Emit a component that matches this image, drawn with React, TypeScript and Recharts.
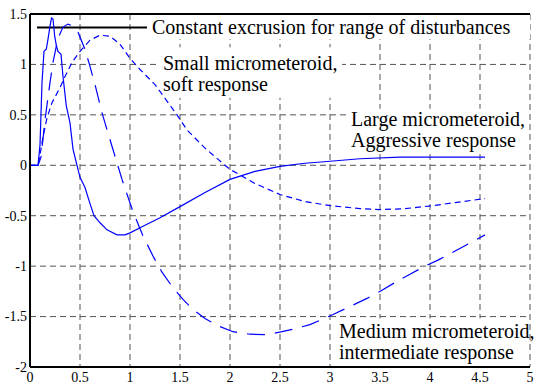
import React from "react";
import {
  LineChart,
  Line,
  XAxis,
  YAxis,
  CartesianGrid,
  ReferenceArea,
  ReferenceLine,
  Label,
} from "recharts";

// axis ticks
const xTicks = [0, 0.5, 1, 1.5, 2, 2.5, 3, 3.5, 4, 4.5, 5];
const yTicks = [-2, -1.5, -1, -0.5, 0, 0.5, 1, 1.5];

// large micrometeroid, aggressive response (solid)
const largeX = [
  0, 0.08, 0.1, 0.12, 0.14, 0.163, 0.18, 0.2, 0.215, 0.23, 0.247, 0.265, 0.28,
  0.31, 0.33, 0.363, 0.4, 0.43, 0.47, 0.5, 0.55, 0.6, 0.64, 0.7, 0.77, 0.87,
  0.95, 1.0, 1.1, 1.3, 1.5, 1.75, 2.0, 2.25, 2.5, 2.75, 3.0, 3.3, 3.7, 4.0,
  4.55,
];
const largeY = [
  0, 0, 0.2, 0.82, 1.13, 1.15, 1.25, 1.38, 1.46, 1.45, 1.28, 1.18, 1.13, 1.1,
  0.88, 0.59, 0.42, 0.16, 0, -0.12, -0.22, -0.38, -0.5, -0.57, -0.64, -0.69,
  -0.69, -0.67, -0.62, -0.52, -0.41, -0.27, -0.14, -0.06, -0.01, 0.02, 0.04,
  0.065, 0.08, 0.08, 0.08,
];

// small micrometeroid, soft response (short dash)
const smallX = [
  0, 0.08, 0.1, 0.13, 0.17, 0.22, 0.3, 0.35, 0.42, 0.5, 0.6, 0.7, 0.8, 0.9, 1.0,
  1.1, 1.25, 1.47, 1.57, 1.75, 1.95, 2.0, 2.25, 2.5, 2.75, 3.0, 3.3, 3.5, 3.75,
  4.03, 4.25, 4.55,
];
const smallY = [
  0, 0, 0.1, 0.28, 0.47, 0.62, 0.77, 0.88, 1.02, 1.13, 1.24, 1.29, 1.28, 1.2,
  1.06, 0.95, 0.8, 0.5, 0.35, 0.17, 0, -0.04, -0.18, -0.29, -0.36, -0.4, -0.43,
  -0.44, -0.43, -0.4, -0.37, -0.33,
];

// medium micrometeroid, intermediate response (long dash)
const mediumX = [
  0, 0.08, 0.11, 0.15, 0.2, 0.23, 0.28, 0.33, 0.38, 0.43, 0.48, 0.55, 0.6, 0.65,
  0.7, 0.72, 0.78, 0.85, 0.92, 1.03, 1.13, 1.23, 1.32, 1.42, 1.53, 1.63, 1.75,
  1.9, 2.03, 2.2, 2.37, 2.52, 2.65, 2.8, 3.03, 3.2, 3.37, 3.52, 3.67, 3.8, 3.95,
  4.08, 4.27, 4.4, 4.55,
];
const mediumY = [
  0, 0, 0.08, 0.45, 0.82, 1.02, 1.26, 1.37, 1.4, 1.38, 1.32, 1.15, 0.98, 0.8,
  0.6, 0.52, 0.32, 0.09, -0.14, -0.46, -0.7, -0.9, -1.06, -1.2, -1.33, -1.43,
  -1.52, -1.6, -1.65, -1.675, -1.68, -1.65, -1.62, -1.58, -1.48, -1.4, -1.32,
  -1.24, -1.15, -1.08, -1.0, -0.94, -0.84, -0.77, -0.69,
];

// "constant excursion" marker
const constX = [0.07, 1.17];
const constY = 1.365;

const toPoints = (xs: number[], ys: number[]) =>
  xs.map((x, i) => ({ x, y: ys[i] }));

const largeData = toPoints(largeX, largeY);
const smallData = toPoints(smallX, smallY);
const mediumData = toPoints(mediumX, mediumY);

const FONT = '"Times New Roman", Times, "Liberation Serif", "DejaVu Serif", serif';
const BLUE = "#0000ff";

function XTick({ x, y, payload }: any) {
  return (
    <text x={x} y={y} dy="0.71em" textAnchor="middle" fontFamily={FONT} fontSize={14} fill="#000">
      {payload.value}
    </text>
  );
}

function YTick({ x, y, payload }: any) {
  return (
    <text x={x} y={y} dy="0.35em" textAnchor="end" fontFamily={FONT} fontSize={14} fill="#000">
      {payload.value}
    </text>
  );
}

function boxText(lines: string[], dx: number, firstBase: number) {
  return (props: any) => {
    const vb = props.viewBox || {};
    return (
      <g>
        {lines.map((t, i) => (
          <text
            key={i}
            x={vb.x + dx}
            y={vb.y + firstBase + i * 21}
            fontFamily={FONT}
            fontSize={20}
            fill="#000"
          >
            {t}
          </text>
        ))}
      </g>
    );
  };
}

export default function App() {
  return (
    <div style={{ position: "absolute", left: 0, top: 0, width: 538, height: 382, background: "#fff" }}>
      <LineChart width={538} height={382} margin={{ top: 14, right: 8, left: 0, bottom: 0 }} style={{ fontFamily: FONT }}>
        <CartesianGrid stroke="#555" strokeDasharray="6 4" />
        <XAxis
          type="number"
          dataKey="x"
          domain={[0, 5]}
          ticks={xTicks}
          height={15}
          tickSize={0}
          tickMargin={5}
          tick={<XTick />}
          axisLine={{ stroke: "#000", strokeWidth: 2 }}
          tickLine={false}
          allowDataOverflow
        />
        <YAxis
          type="number"
          domain={[-2, 1.5]}
          ticks={yTicks}
          width={30}
          tickSize={0}
          tickMargin={3}
          tick={<YTick />}
          axisLine={{ stroke: "#000", strokeWidth: 2 }}
          tickLine={false}
          allowDataOverflow
        />
        <ReferenceArea x1={1.18} x2={5} y1={1.25} y2={1.5} fill="#fff" fillOpacity={1} stroke="none" ifOverflow="visible">
          <Label content={boxText(["Constant excrusion for range of disturbances"], 4, 20)} />
        </ReferenceArea>
        <ReferenceArea x1={1.28} x2={3.12} y1={0.67} y2={1.17} fill="#fff" fillOpacity={1} stroke="none" ifOverflow="visible">
          <Label content={boxText(["Small micrometeroid,", "soft response"], 5, 23)} />
        </ReferenceArea>
        <ReferenceArea x1={3.16} x2={4.98} y1={0.125} y2={0.56} fill="#fff" fillOpacity={1} stroke="none" ifOverflow="visible">
          <Label content={boxText(["Large micrometeroid,", "Aggressive response"], 5, 17)} />
        </ReferenceArea>
        <ReferenceArea x1={3.05} x2={4.99} y1={-1.99} y2={-1.52} fill="#fff" fillOpacity={1} stroke="none" ifOverflow="visible">
          <Label content={boxText(["Medium micrometeroid,", "intermediate response"], 4, 19)} />
        </ReferenceArea>
        <ReferenceLine y={1.5} stroke="#000" strokeWidth={2} ifOverflow="visible" />
        <ReferenceLine
          segment={[
            { x: constX[0], y: constY },
            { x: constX[1], y: constY },
          ]}
          stroke="#000"
          strokeWidth={2}
          ifOverflow="visible"
        />
        <Line data={largeData} dataKey="y" type="linear" dot={false} stroke={BLUE} strokeWidth={1.2} isAnimationActive={false} />
        <Line data={smallData} dataKey="y" type="linear" dot={false} stroke={BLUE} strokeWidth={1.2} strokeDasharray="6 4" isAnimationActive={false} />
        <Line data={mediumData} dataKey="y" type="linear" dot={false} stroke={BLUE} strokeWidth={1.2} strokeDasharray="18 10" isAnimationActive={false} />
      </LineChart>
    </div>
  );
}
